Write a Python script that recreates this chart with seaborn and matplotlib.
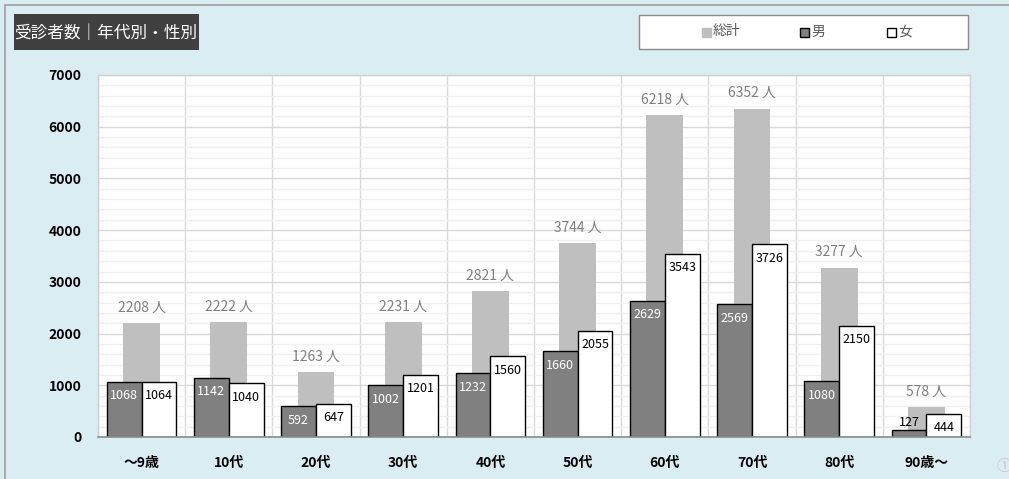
import matplotlib
matplotlib.use("Agg")
import matplotlib.pyplot as plt
import matplotlib.patches as mpatches
from matplotlib.lines import Line2D
from matplotlib.ticker import MultipleLocator, FixedLocator
import seaborn as sns
import pandas as pd

categories = ["～9歳", "10代", "20代", "30代", "40代", "50代", "60代", "70代", "80代", "90歳～"]
total = [2208, 2222, 1263, 2231, 2821, 3744, 6218, 6352, 3277, 578]
male = [1068, 1142, 592, 1002, 1232, 1660, 2629, 2569, 1080, 127]
female = [1064, 1040, 647, 1201, 1560, 2055, 3543, 3726, 2150, 444]
title = "受診者数｜年代別・性別"
legend_labels = ["総計", "男", "女"]

sns.set_theme(style="white")
plt.rcParams['font.family'] = ['Noto Sans CJK JP', 'DejaVu Sans']

BG = "#DAEDF3"
fig = plt.figure(figsize=(10.09, 4.79), dpi=100, facecolor=BG)
W, H = 1009, 479
ax = fig.add_axes([98 / W, 1 - 437 / H, (970 - 98) / W, (437 - 75) / H])
ax.set_facecolor("white")

df_total = pd.DataFrame({"cat": categories, "val": total})
df_sex = pd.DataFrame({
    "cat": categories * 2,
    "val": male + female,
    "sex": ["男"] * len(categories) + ["女"] * len(categories),
})

sns.barplot(data=df_total, x="cat", y="val", color="#BFBFBF", width=0.42,
            saturation=1, ax=ax, zorder=2, linewidth=0, errorbar=None)
sns.barplot(data=df_sex, x="cat", y="val", hue="sex", hue_order=["男", "女"],
            palette={"男": "#808080", "女": "#FFFFFF"}, width=0.8, saturation=1,
            ax=ax, zorder=3, edgecolor="black", linewidth=1.0, errorbar=None,
            legend=False)

ax.set_xlim(-0.5, len(categories) - 0.5)
ax.set_ylim(0, 7000)
ax.yaxis.set_major_locator(MultipleLocator(1000))
ax.yaxis.set_minor_locator(MultipleLocator(200))
ax.xaxis.set_minor_locator(FixedLocator([i + 0.5 for i in range(-1, len(categories))]))
ax.grid(which="major", axis="y", color="#D9D9D9", linewidth=1.0, zorder=0)
ax.grid(which="minor", axis="y", color="#F0F0F0", linewidth=1.0, zorder=0)
ax.grid(which="minor", axis="x", color="#D9D9D9", linewidth=1.0, zorder=0)
ax.set_axisbelow(True)
for s in ["top", "right", "left"]:
    ax.spines[s].set_color("#D0D0D0")
    ax.spines[s].set_linewidth(1.0)
ax.spines["bottom"].set_color("#8C8C8C")
ax.spines["bottom"].set_linewidth(1.2)
ax.spines["bottom"].set_zorder(5)
ax.tick_params(axis="both", which="both", length=0)
ax.tick_params(axis="y", pad=12, labelsize=10, labelcolor="black")
ax.tick_params(axis="x", pad=14, labelsize=10, labelcolor="black")
for lab in ax.get_yticklabels() + ax.get_xticklabels():
    lab.set_fontweight("bold")
ax.set_xlabel("")
ax.set_ylabel("")

n = len(categories)
total_patches = ax.patches[:n]
male_patches = ax.patches[n:2 * n]
female_patches = ax.patches[2 * n:3 * n]
for p, v in zip(total_patches, total):
    ax.annotate(f"{v} 人", (p.get_x() + p.get_width() / 2, v), xytext=(0, 6),
                textcoords="offset points", ha="center", va="bottom",
                fontsize=10, color="#7F7F7F", zorder=6)
for p, v in zip(male_patches, male):
    cx = p.get_x() + p.get_width() / 2
    if v < 400:
        ax.annotate(f"{v}", (cx, v), xytext=(0, 1), textcoords="offset points",
                    ha="center", va="bottom", fontsize=9, color="black", zorder=6)
    else:
        ax.annotate(f"{v}", (cx, v), xytext=(0, -10), textcoords="offset points",
                    ha="center", va="center", fontsize=9, color="white", zorder=6)
for p, v in zip(female_patches, female):
    cx = p.get_x() + p.get_width() / 2
    ax.annotate(f"{v}", (cx, v), xytext=(0, -10), textcoords="offset points",
                ha="center", va="center", fontsize=9, color="black", zorder=6)

# figure border (top and left only)
fig.lines.append(Line2D([5 / W, 1.0], [1 - 5 / H, 1 - 5 / H], transform=fig.transFigure,
                        color="#A0A0A0", linewidth=1.2))
fig.lines.append(Line2D([5 / W, 5 / W], [0.0, 1 - 5 / H], transform=fig.transFigure,
                        color="#A0A0A0", linewidth=1.2))
# title box
fig.patches.append(mpatches.Rectangle((14 / W, 1 - 50 / H), (199 - 14) / W, 36 / H,
                                      transform=fig.transFigure,
                                      facecolor="#404040", edgecolor="none"))
fig.text(106 / W, 1 - 33 / H, title, color="white", fontsize=12,
         ha="center", va="center")

# legend box
fig.patches.append(mpatches.Rectangle((639 / W, 1 - 49 / H), (968 - 639) / W, 34 / H,
                                      transform=fig.transFigure,
                                      facecolor="white", edgecolor="#8C8C8C",
                                      linewidth=1.0))
leg_colors = [("#BFBFBF", "#BFBFBF"), ("#808080", "black"), ("white", "black")]
leg_x = [702, 800, 887]
for (fc, ec), lx, lab in zip(leg_colors, leg_x, legend_labels):
    fig.patches.append(mpatches.Rectangle((lx / W, 1 - 36.5 / H), 9 / W, 9 / H,
                                          transform=fig.transFigure,
                                          facecolor=fc, edgecolor=ec, linewidth=1.0))
    fig.text((lx + 11) / W, 1 - 31.5 / H, lab, color="#595959", fontsize=10,
             ha="left", va="center")

fig.text(996 / W, 1 - 467 / H, "①", color="#C8C8C8", fontsize=11,
         ha="left", va="center")

fig.savefig("out.png", dpi=100, facecolor=BG)
